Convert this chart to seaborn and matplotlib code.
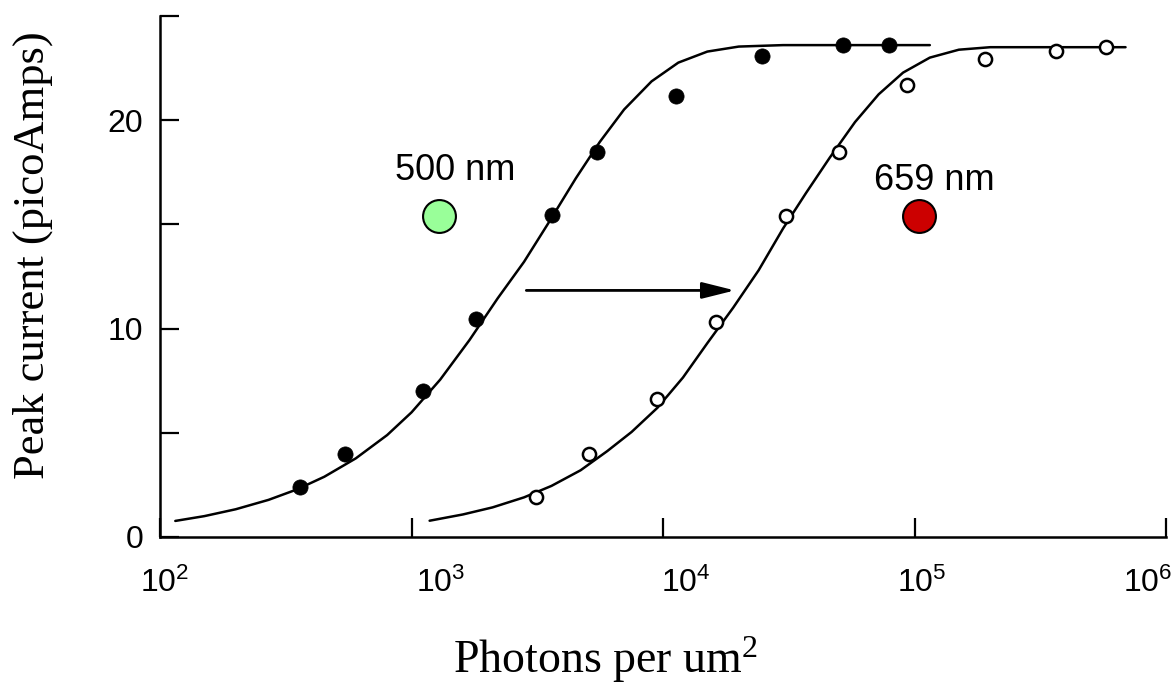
import pandas as pd
import matplotlib
matplotlib.use("Agg")
import matplotlib.pyplot as plt
import matplotlib.transforms as mtransforms
from matplotlib.ticker import NullLocator
import seaborn as sns

# --- fitted curves ---
curve500_x = [115, 150, 200, 270, 350, 450, 600, 800, 1000, 1300, 1700, 2200,
              2800, 3500, 4500, 5600, 7000, 9000, 11500, 15000, 20000, 30000, 115000]
curve500_y = [0.77, 1.00, 1.33, 1.78, 2.28, 2.89, 3.77, 4.89, 5.98, 7.55, 9.45, 11.45,
              13.2, 15.06, 17.21, 18.95, 20.51, 21.86, 22.76, 23.29, 23.53, 23.6, 23.6]
curve659_x = [1180, 1600, 2100, 2800, 3600, 4700, 6000, 7500, 9500, 12000, 15000,
              19000, 24000, 30000, 37000, 46000, 58000, 72000, 90000, 115000,
              150000, 200000, 690000]
curve659_y = [0.78, 1.08, 1.42, 1.90, 2.45, 3.20, 4.12, 5.04, 6.2, 7.65, 9.3,
              11.0, 12.8, 14.8, 16.5, 18.2, 19.91, 21.24, 22.28, 23.0,
              23.38, 23.5, 23.5]

# --- measured points ---
pts500_x = [359, 542, 1107, 1811, 3630, 5470, 11270, 24700, 51700, 78900]
pts500_y = [2.38, 3.99, 6.98, 10.45, 15.44, 18.48, 21.14, 23.09, 23.6, 23.6]
pts659_x = [3135, 5080, 9460, 16200, 30800, 49900, 92900, 190000, 366000, 578000]
pts659_y = [1.9, 3.99, 6.6, 10.31, 15.39, 18.48, 21.7, 22.95, 23.3, 23.5]

# --- axis ticks ---
xtick_vals = [1e2, 1e3, 1e4, 1e5, 1e6]
xtick_labels = [r"$10^{2}$", r"$10^{3}$", r"$10^{4}$", r"$10^{5}$", r"$10^{6}$"]
ytick_vals = [0, 5, 10, 15, 20, 25]
ytick_labels = ["0", "", "10", "", "20", ""]

# --- annotations ---
key_labels = ["500 nm", "659 nm"]
key_text_x = [1496, 120000]
key_text_y = [17.58, 17.1]
key_dot_x = [1291, 103700]
key_dot_y = [15.39, 15.39]
key_colors = ["#99FF99", "#CC0000"]
arrow_from = (2860, 11.83)
arrow_to = (19300, 11.83)

curves = pd.concat([
    pd.DataFrame({"photons": curve500_x, "current": curve500_y, "wl": "500 nm"}),
    pd.DataFrame({"photons": curve659_x, "current": curve659_y, "wl": "659 nm"}),
])
pts500 = pd.DataFrame({"photons": pts500_x, "current": pts500_y})
pts659 = pd.DataFrame({"photons": pts659_x, "current": pts659_y})

sns.set_theme(style="ticks")
plt.rcParams["font.family"] = ["Liberation Sans", "DejaVu Sans"]
plt.rcParams["mathtext.default"] = "regular"
plt.rcParams["text.color"] = "black"
plt.rcParams["axes.labelcolor"] = "black"

fig = plt.figure(figsize=(11.75, 6.99), dpi=100)
ax = fig.add_axes([0.1362, 0.2318, 0.8562, 0.7454])

sns.lineplot(data=curves, x="photons", y="current", hue="wl",
             palette={"500 nm": "black", "659 nm": "black"},
             sort=False, estimator=None, lw=1.8, legend=False, ax=ax, zorder=2)
sns.scatterplot(data=pts500, x="photons", y="current", color="black",
                s=120, edgecolor="black", linewidth=0.5, ax=ax, zorder=3)
sns.scatterplot(data=pts659, x="photons", y="current", color="white",
                s=90, edgecolor="black", linewidth=1.8, ax=ax, zorder=3)

for lab, tx, ty, dx, dy, col in zip(key_labels, key_text_x, key_text_y,
                                     key_dot_x, key_dot_y, key_colors):
    ax.text(tx, ty, lab, ha="center", va="center", fontsize=26, color="black")
    ax.scatter([dx], [dy], s=560, color=col, edgecolors="black",
               linewidths=1.5, zorder=5)

ax.annotate("", xy=arrow_to, xytext=arrow_from,
            arrowprops=dict(arrowstyle="-|>,head_length=1.0,head_width=0.25",
                            mutation_scale=20, lw=2, color="black",
                            shrinkA=0, shrinkB=0))

ax.set_xscale("log")
ax.set_xlim(1e2, 1e6)
ax.set_ylim(0, 25)
ax.set_xticks(xtick_vals)
ax.set_xticklabels(xtick_labels)
ax.xaxis.set_minor_locator(NullLocator())
ax.set_yticks(ytick_vals)
ax.set_yticklabels(ytick_labels)

ax.tick_params(direction="in", length=14, width=1.6, labelsize=23,
               colors="black")
ax.tick_params(axis="x", pad=22)
ax.tick_params(axis="y", pad=12)

# scanned labels sit a bit off their ticks
x_offsets_px = [5, 29, 23, 7, -18]
for lab, dx in zip(ax.get_xticklabels(), x_offsets_px):
    lab.set_transform(lab.get_transform() +
                      mtransforms.ScaledTranslation(dx / 100, 0, fig.dpi_scale_trans))

sns.despine(ax=ax)
for side in ["left", "bottom"]:
    ax.spines[side].set_linewidth(1.8)
    ax.spines[side].set_color("black")

ax.set_xlabel("Photons per um$^{2}$", fontsize=33, family="Liberation Serif",
              va="center")
ax.xaxis.set_label_coords(0.443, -0.236)
ax.set_ylabel("Peak current (picoAmps)", fontsize=32, family="Liberation Serif",
              va="center")
ax.yaxis.set_label_coords(-0.127, 0.541)

fig.savefig("out.png", dpi=100)
